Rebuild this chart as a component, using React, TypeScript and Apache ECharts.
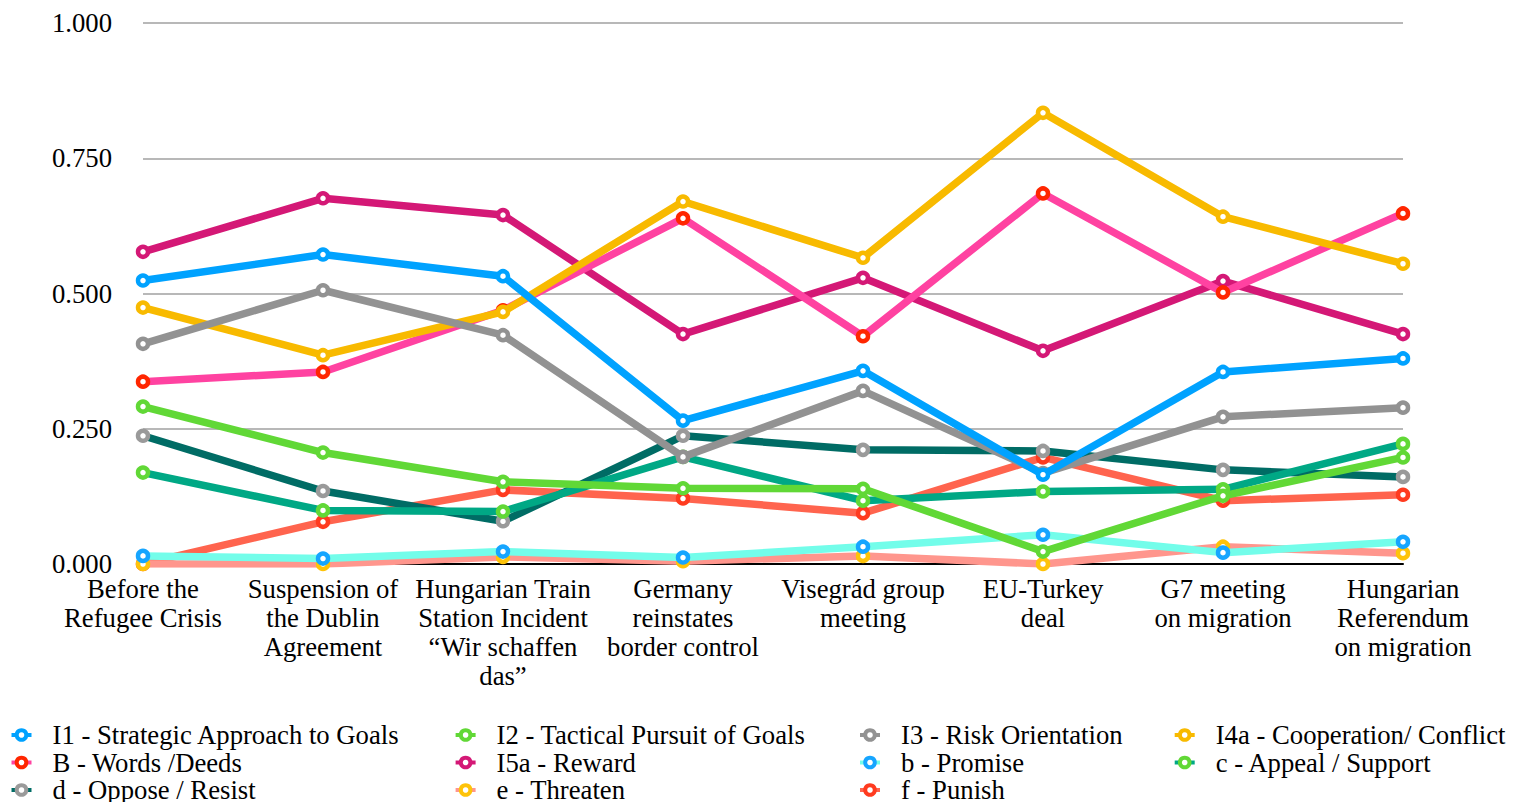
import React, { useEffect, useRef } from "react";
import * as echarts from "echarts";

const categories = [
  "Before the\nRefugee Crisis",
  "Suspension of\nthe Dublin\nAgreement",
  "Hungarian Train\nStation Incident\n\u201CWir schaffen\ndas\u201D",
  "Germany\nreinstates\nborder control",
  "Visegr\u00E1d group\nmeeting",
  "EU-Turkey\ndeal",
  "G7 meeting\non migration",
  "Hungarian\nReferendum\non migration",
];

const seriesNames = [
  "I1 - Strategic Approach to Goals",
  "I2 - Tactical Pursuit of Goals",
  "I3 - Risk Orientation",
  "I4a - Cooperation/ Conflict",
  "B - Words /Deeds",
  "I5a - Reward",
  "b - Promise",
  "c - Appeal / Support",
  "d - Oppose / Resist",
  "e - Threaten",
  "f - Punish",
];

const i1 = [0.524, 0.572, 0.532, 0.265, 0.357, 0.165, 0.355, 0.38];
const i2 = [0.291, 0.206, 0.152, 0.14, 0.139, 0.023, 0.126, 0.197];
const i3 = [0.407, 0.506, 0.423, 0.198, 0.32, 0.168, 0.272, 0.289];
const i4a = [0.474, 0.386, 0.466, 0.67, 0.566, 0.834, 0.642, 0.555];
const bWords = [0.337, 0.355, 0.469, 0.639, 0.421, 0.685, 0.502, 0.648];
const i5a = [0.577, 0.676, 0.645, 0.425, 0.529, 0.394, 0.523, 0.425];
const bPromise = [0.015, 0.01, 0.023, 0.012, 0.032, 0.054, 0.021, 0.041];
const cAppeal = [0.169, 0.099, 0.097, 0.198, 0.117, 0.134, 0.138, 0.222];
const dOppose = [0.237, 0.135, 0.079, 0.237, 0.211, 0.209, 0.174, 0.161];
const eThreaten = [0.0, 0.0, 0.013, 0.005, 0.015, 0.0, 0.032, 0.02];
const fPunish = [0.0, 0.078, 0.137, 0.121, 0.094, 0.197, 0.117, 0.128];

const seriesData = [i1, i2, i3, i4a, bWords, i5a, bPromise, cAppeal, dOppose, eThreaten, fPunish];

const lineColors = [
  "#00A2FF", "#61D836", "#929292", "#F8BA00", "#FF42A1", "#D41876",
  "#73FDEA", "#00A885", "#006C65", "#FF968D", "#FF644E",
];
const markerColors = [
  "#00A2FF", "#61D836", "#929292", "#F8BA00", "#FF2600", "#D41876",
  "#16A5FF", "#61D836", "#9A9A9A", "#FEC309", "#FF3B1F",
];

const yTicks = [0, 0.25, 0.5, 0.75, 1];

const legendColumns = [
  { left: 9.5, names: [seriesNames[0], seriesNames[4], seriesNames[8]] },
  { left: 453.6, names: [seriesNames[1], seriesNames[5], seriesNames[9]] },
  { left: 858, names: [seriesNames[2], seriesNames[6], seriesNames[10]] },
  { left: 1172.7, names: [seriesNames[3], seriesNames[7]] },
];

const FONT = "'Liberation Serif', 'Times New Roman', serif";
const FS = 26.7;

export default function App() {
  const ref = useRef<HTMLDivElement>(null);
  useEffect(() => {
    if (!ref.current) return;
    const chart = echarts.init(ref.current, undefined, { renderer: "svg" });
    const option = {
      animation: false,
      backgroundColor: "#ffffff",
      grid: { left: 143, right: 119, top: 23, bottom: 238, containLabel: false },
      xAxis: {
        type: "category",
        data: categories,
        boundaryGap: false,
        axisLine: { show: true, lineStyle: { color: "#000000", width: 2 } },
        axisTick: { show: false },
        axisLabel: {
          interval: 0,
          margin: 10,
          fontSize: FS,
          lineHeight: 29,
          color: "#000000",
          fontFamily: FONT,
          align: "center",
        },
        splitLine: { show: false },
      },
      yAxis: {
        type: "value",
        min: yTicks[0],
        max: yTicks[yTicks.length - 1],
        interval: 0.25,
        axisLine: { show: false },
        axisTick: { show: false },
        axisLabel: {
          margin: 31,
          fontSize: FS,
          color: "#000000",
          fontFamily: FONT,
          formatter: (v: number) => v.toFixed(3),
        },
        splitLine: { show: true, lineStyle: { color: "#B8B8B8", width: 2 } },
      },
      legend: legendColumns.map((col) => ({
        orient: "vertical",
        left: col.left,
        top: 721.5,
        height: 120,
        padding: 0,
        itemGap: 0.5,
        itemWidth: 20,
        itemHeight: 12,
        data: col.names,
        lineStyle: { width: 4 },
        itemStyle: { borderWidth: 4 },
        textStyle: {
          fontSize: FS,
          lineHeight: 27,
          color: "#000000",
          fontFamily: FONT,
          padding: [0, 0, 0, 16],
        },
      })),
      series: seriesNames.map((name, i) => ({
        name,
        type: "line",
        data: seriesData[i],
        z: 2 + (seriesNames.length - i),
        symbol: "circle",
        symbolSize: 10,
        showSymbol: true,
        lineStyle: { color: lineColors[i], width: 7.5 },
        itemStyle: { color: "#ffffff", borderColor: markerColors[i], borderWidth: 4.5 },
        emphasis: { disabled: true },
      })),
    };
    chart.setOption(option as any);
    return () => chart.dispose();
  }, []);
  return (
    <div
      ref={ref}
      style={{ position: "fixed", left: 0, top: 0, width: 1522, height: 802 }}
    />
  );
}
